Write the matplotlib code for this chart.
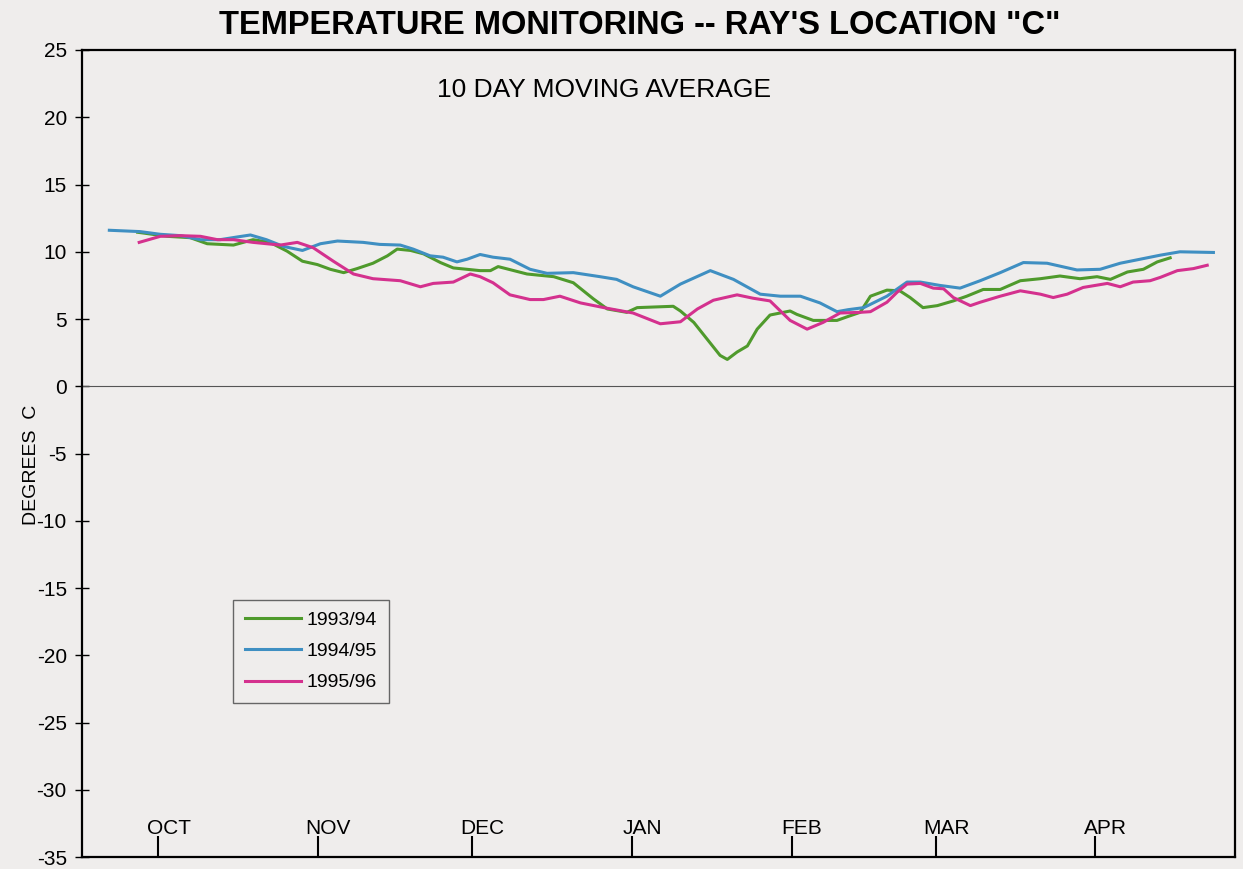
import matplotlib.pyplot as plt
import matplotlib.transforms as mtransforms

# days counted from Oct 1, temperature in deg C
days_9394 = [-4, -3, 1.7, 6.2, 9.5, 14.6, 18.4, 21.7, 25, 28, 30.9, 33.4, 36, 38.6, 41.7, 44.5,
             46.4, 49, 51.5, 54.8, 57.3, 62.5, 64.5, 66, 71.6, 76.8, 80.6, 84.5, 87.2, 91, 93,
             100, 101.4, 104, 106.6, 109.1, 110.5, 112.4, 114.4, 116.3, 118.8, 122.7, 124,
             127.2, 131.8, 134, 136.3, 138.3, 141.5, 144, 146, 148.5, 151.3, 154.4, 157,
             160.2, 163.5, 167.4, 171.3, 175.1, 179, 182.3, 184.9, 188.2, 191.3, 194, 196.5]
temp_9394 = [11.45, 11.4, 11.15, 11.05, 10.6, 10.5, 10.9, 10.7, 10.05, 9.3, 9.05, 8.7, 8.45,
             8.75, 9.15, 9.7, 10.2, 10.1, 9.85, 9.2, 8.8, 8.6, 8.6, 8.9, 8.35, 8.15, 7.7, 6.5,
             5.75, 5.5, 5.85, 5.95, 5.6, 4.75, 3.5, 2.3, 2.0, 2.55, 3.0, 4.25, 5.3, 5.6, 5.35,
             4.9, 4.9, 5.2, 5.5, 6.7, 7.15, 7.1, 6.6, 5.85, 6.0, 6.35, 6.7, 7.2, 7.2, 7.85,
             8.0, 8.2, 8.0, 8.15, 7.95, 8.5, 8.7, 9.25, 9.55]

days_9495 = [-9.5, -3.5, 0.4, 4.3, 8.2, 12, 15.3, 17.9, 21, 24.3, 28, 31.5, 34.8, 39.8, 43,
             47, 49.5, 52.8, 55.3, 58, 60, 62.5, 65, 68.3, 72.2, 75.5, 80.6, 85.8, 89, 92.2,
             97.5, 101.4, 107.2, 111.7, 116.9, 120.8, 124.7, 128.5, 131.8, 134, 137, 141.5,
             145.4, 148, 151.8, 155.7, 159.6, 163.5, 168, 172.6, 178.4, 182.9, 186.8, 190.7,
             194.6, 198.4, 204.9]
temp_9495 = [11.6, 11.5, 11.3, 11.2, 10.9, 10.9, 11.1, 11.25, 10.9, 10.4, 10.1, 10.6, 10.8,
             10.7, 10.55, 10.5, 10.2, 9.7, 9.6, 9.25, 9.45, 9.8, 9.6, 9.45, 8.7, 8.4, 8.45,
             8.15, 7.95, 7.4, 6.7, 7.6, 8.6, 7.95, 6.85, 6.7, 6.7, 6.2, 5.55, 5.7, 5.85, 6.7,
             7.75, 7.75, 7.5, 7.3, 7.85, 8.45, 9.2, 9.15, 8.65, 8.7, 9.15, 9.45, 9.75, 10.0,
             9.95]

days_9596 = [-3.7, 0.4, 4.3, 8.2, 11.5, 14.6, 18.4, 23.7, 27, 30.1, 34, 37.9, 41.7, 47, 50.9,
             53.4, 57.3, 60.6, 62.5, 65, 68.3, 72.2, 74.8, 78, 82, 87.2, 92.2, 97.5, 101.4,
             104.7, 107.8, 112.4, 115.5, 118.8, 122.7, 126, 129.1, 132.4, 136.3, 138.3, 141.5,
             143.5, 145.4, 148, 150.5, 152.5, 154.4, 157.7, 159.6, 163.5, 167.4, 171.3, 173.8,
             176.5, 179.6, 184.3, 186.8, 189.3, 192.6, 194.6, 197.9, 201, 203.7]
temp_9596 = [10.7, 11.15, 11.2, 11.15, 10.9, 10.9, 10.7, 10.5, 10.7, 10.3, 9.3, 8.35, 8.0,
             7.85, 7.4, 7.65, 7.75, 8.35, 8.15, 7.7, 6.8, 6.45, 6.45, 6.7, 6.2, 5.8, 5.45,
             4.65, 4.8, 5.75, 6.4, 6.8, 6.55, 6.35, 4.9, 4.25, 4.75, 5.45, 5.5, 5.55, 6.25,
             7.0, 7.6, 7.65, 7.3, 7.25, 6.6, 6.0, 6.25, 6.7, 7.1, 6.85, 6.6, 6.85, 7.35, 7.65,
             7.4, 7.75, 7.85, 8.1, 8.6, 8.75, 9.0]

month_days = [0, 31, 61, 92, 123, 151, 182]
month_labels = ["OCT", "NOV", "DEC", "JAN", "FEB", "MAR", "APR"]
yticks = list(range(-35, 30, 5))

plt.rcParams["font.family"] = ["Liberation Sans", "DejaVu Sans"]

paper = "#efedec"
fig = plt.figure(figsize=(12.43, 8.69), dpi=100, facecolor=paper)
ax = fig.add_axes([0.066, 0.0135, 0.9276, 0.929], facecolor=paper)

ax.plot(days_9394, temp_9394, color="#4f9a2c", lw=2.2, label="1993/94")
ax.plot(days_9495, temp_9495, color="#3f8fc2", lw=2.2, label="1994/95")
ax.plot(days_9596, temp_9596, color="#d4318e", lw=2.2, label="1995/96")
ax.axhline(0, color="#555555", lw=0.8)

ax.set_xlim(-14.8, 209.1)
ax.set_ylim(-35, 25)
ax.set_yticks(yticks)
ax.set_yticklabels([str(v) for v in yticks], fontsize=15)
ax.tick_params(axis="y", direction="inout", length=10, width=1, pad=6)
ax.set_xticks(month_days)
ax.set_xticklabels([])
ax.tick_params(axis="x", direction="in", length=15, width=1.5)
for s in ax.spines.values():
    s.set_linewidth(1.6)

# month labels sit inside the box, above the ticks
trans = mtransforms.blended_transform_factory(ax.transData, ax.transAxes)
for d, lab in zip(month_days, month_labels):
    ax.text(d + 2, 0.024, lab, transform=trans, ha="center", va="bottom", fontsize=15)

ax.text(0.453, 0.95, "10 DAY MOVING AVERAGE", transform=ax.transAxes, ha="center",
        va="center", fontsize=19)
fig.text(0.515, 0.971, "TEMPERATURE MONITORING -- RAY'S LOCATION \"C\"", ha="center",
         va="center", fontsize=23.5, fontweight="bold")
fig.text(0.025, 0.465, "DEGREES  C", rotation=90, ha="center", va="center", fontsize=14)

leg = ax.legend(loc="lower left", bbox_to_anchor=(0.131, 0.191), borderaxespad=0,
                fontsize=14, handlelength=2.9, handletextpad=0.3, fancybox=False,
                edgecolor="#666666", facecolor=paper, framealpha=1, labelspacing=0.7,
                borderpad=0.6)
leg.get_frame().set_linewidth(1)

fig.savefig("out.png", dpi=100, facecolor=paper)
